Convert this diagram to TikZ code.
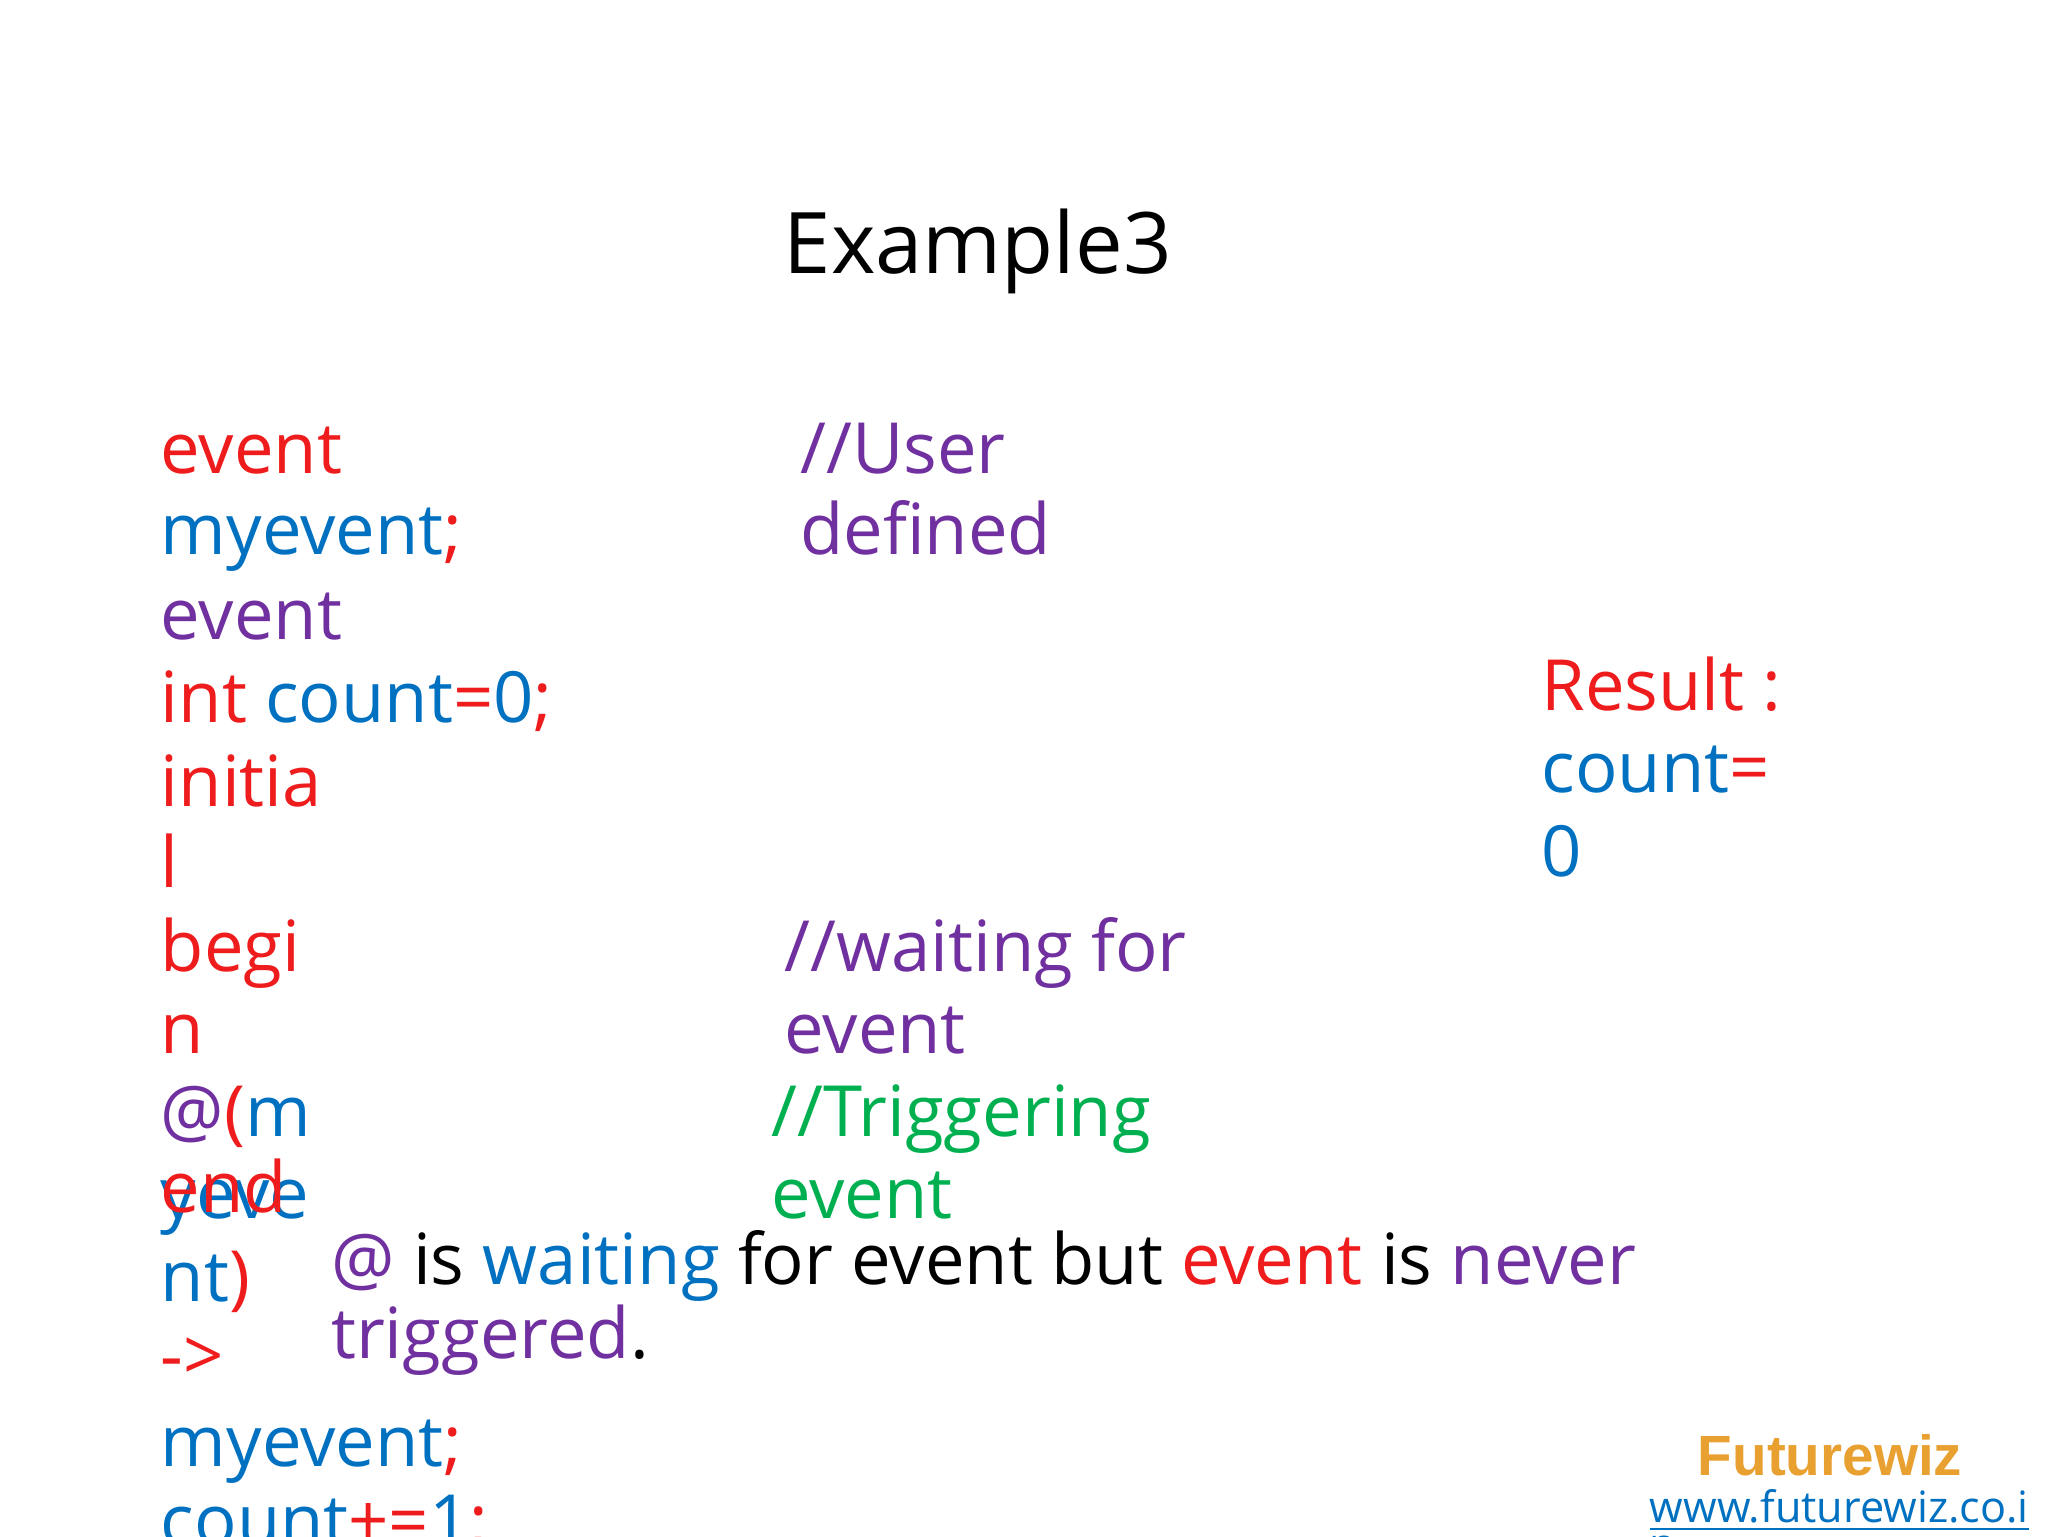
\documentclass[tikz,border=0pt]{standalone}
\usepackage{fontspec}
\setmainfont{Open Sans}
\newfontfamily\arialf{Liberation Sans}
\definecolor{cred}{HTML}{EE1C1C}
\definecolor{cblue}{HTML}{0070C0}
\definecolor{cpur}{HTML}{7030A0}
\definecolor{cgrn}{HTML}{00B050}
\definecolor{corg}{HTML}{E8A030}
\begin{document}
\begin{tikzpicture}[x=1cm,y=1cm,
  t/.style={anchor=base west,inner sep=0pt,font=\fontsize{15.2}{18}\selectfont}]
\useasboundingbox (0,0) rectangle (15.5,-11.625);
\node[anchor=base,inner sep=0pt,font=\fontsize{18.3}{22}\selectfont] (title) at (7.4,-2.07) {Example3};
% code column
\node[t,text=cred] (l1) at (1.21,-3.58) {event};
\node[t] (l2) at (1.21,-4.20) {\textcolor{cblue}{myevent}\textcolor{cred}{;}};
\node[t,text=cpur] (l3) at (1.21,-4.84) {event};
\node[t] (l4) at (1.21,-5.47) {\textcolor{cred}{int} \textcolor{cblue}{count}\textcolor{cred}{=}\textcolor{cblue}{0}\textcolor{cred}{;}};
\node[t,text=cred] (l5) at (1.21,-6.10) {initia};
\node[t,text=cred] (l6) at (1.21,-6.72) {l};
\node[t,text=cred] (l7) at (1.21,-7.35) {begi};
\node[t,text=cred] (l8) at (1.21,-7.97) {n};
\node[t] (l9) at (1.21,-8.60) {\textcolor{cpur}{@}\textcolor{cred}{(}\textcolor{cblue}{m}};
\node[t,text=cblue] (l10) at (1.21,-9.22) {yeve};
\node[t,text=cred] (l10b) at (1.21,-9.18) {end};
\node[t] (l11) at (1.21,-9.85) {\textcolor{cblue}{nt}\textcolor{cred}{)}};
\node[t,text=cred] (l12) at (1.21,-10.45) {->};
\node[t] (l13) at (1.21,-11.10) {\textcolor{cblue}{myevent}\textcolor{cred}{;}};
\node[t] (l14) at (1.21,-11.70) {\textcolor{cblue}{count}\textcolor{cred}{+=}\textcolor{cblue}{1}\textcolor{cred}{;}};
% comments
\node[t,text=cpur] (c1) at (6.05,-3.58) {//User};
\node[t,text=cpur] (c2) at (6.05,-4.20) {defined};
\node[t,text=cpur] (c3) at (5.93,-7.35) {//waiting for};
\node[t,text=cpur] (c4) at (5.93,-7.97) {event};
\node[t,text=cgrn] (c5) at (5.83,-8.60) {//Triggering};
\node[t,text=cgrn] (c6) at (5.83,-9.22) {event};
% result
\node[t,text=cred] (r1) at (11.66,-5.38) {Result :};
\node[t] (r2) at (11.66,-6.00) {\textcolor{cblue}{count}\textcolor{cred}{=}};
\node[t,text=cblue] (r3) at (11.66,-6.63) {0};
% sentence
\node[t] (s1) at (2.50,-9.72) {\textcolor{cpur}{@} is \textcolor{cblue}{waiting} for event but \textcolor{cred}{event} is \textcolor{cpur}{never}};
\node[t] (s2) at (2.50,-10.28) {\textcolor{cpur}{triggered}.};
% logo
\node[anchor=base,inner sep=0pt,font=\arialf\bfseries\fontsize{12.2}{14}\selectfont,text=corg] (fw) at (13.85,-11.17) {Futurewiz};
\node[anchor=base west,inner sep=0pt,font=\fontsize{9.3}{11}\selectfont,text=cblue] (url) at (12.48,-11.52) {\underline{www.futurewiz.co.i}};
\node[anchor=base west,inner sep=0pt,font=\fontsize{9.3}{11}\selectfont,text=cblue] (url2) at (12.48,-11.80) {\underline{n}};
\end{tikzpicture}
\end{document}
